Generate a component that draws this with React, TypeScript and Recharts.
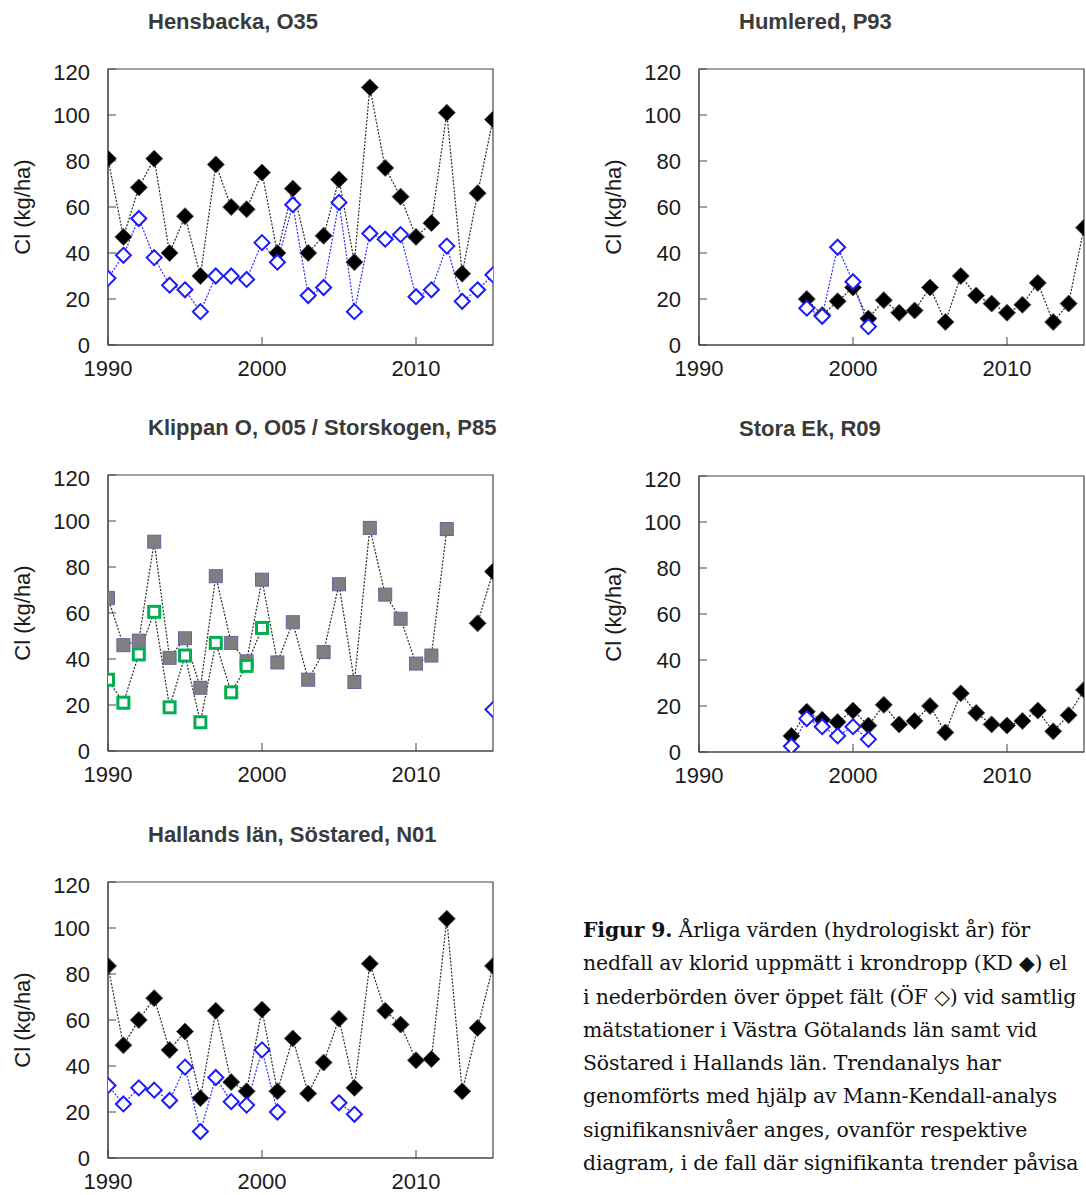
import { LineChart, Line, XAxis, YAxis, ReferenceArea } from "recharts";

// Hydrological years shown on every panel
const YEARS = [
  1990, 1991, 1992, 1993, 1994, 1995, 1996, 1997, 1998, 1999, 2000, 2001, 2002,
  2003, 2004, 2005, 2006, 2007, 2008, 2009, 2010, 2011, 2012, 2013, 2014, 2015,
];
const X_TICKS = [1990, 2000, 2010];
const Y_TICKS = [0, 20, 40, 60, 80, 100, 120];

// Hensbacka, O35
const hensbackaKD = [81, 47, 68.5, 81, 40, 56, 30, 78.5, 60, 59, 75, 40, 68, 40, 47.5, 72, 36, 112, 77, 64.5, 47, 53, 101, 31, 66, 98];
const hensbackaOF = [29, 39, 55, 38, 26, 24, 14.5, 30, 30, 28.5, 44.5, 36, 61, 21.5, 25, 62, 14.5, 48.5, 46, 48, 21, 24, 43, 19, 24, 30.5];

// Klippan O, O05 / Storskogen, P85
const klippanGray = [66.5, 46, 48, 91, 40.5, 49, 27.5, 76, 47, 39, 74.5, 38.5, 56, 31, 43, 72.5, 30, 97, 68, 57.5, 38, 41.5, 96.5, null, null, null];
const klippanGreen = [31, 21, 42, 60.5, 19, 41.5, 12.5, 47, 25.5, 37, 53.5, null, null, null, null, null, null, null, null, null, null, null, null, null, null, null];
const storskogenKD = [null, null, null, null, null, null, null, null, null, null, null, null, null, null, null, null, null, null, null, null, null, null, null, null, 55.5, 78];
const storskogenOF = [null, null, null, null, null, null, null, null, null, null, null, null, null, null, null, null, null, null, null, null, null, null, null, null, null, 18];

// Hallands län, Söstared, N01
const sostaredKD = [83.5, 49, 60, 69.5, 47, 55, 26, 64, 33, 29, 64.5, 29, 52, 28, 41.5, 60.5, 30.5, 84.5, 64, 58, 42.5, 43, 104, 29, 56.5, 83.5];
const sostaredOF = [31.5, 23.5, 30.5, 29.5, 25, 39.5, 11.5, 35, 24.5, 23, 47, 20, null, null, null, 24, 19, null, null, null, null, null, null, null, null, null];

// Humlered, P93
const humleredKD = [null, null, null, null, null, null, null, 20, 13, 19, 25, 11.5, 19.5, 14, 15, 25, 10, 30, 21.5, 18, 14, 17.5, 27, 10, 18, 51];
const humleredOF = [null, null, null, null, null, null, null, 16, 12.5, 42.5, 27.5, 8, null, null, null, null, null, null, null, null, null, null, null, null, null, null];

// Stora Ek, R09
const storaEkKD = [null, null, null, null, null, null, 7, 17.5, 14, 13, 18, 11.5, 20.5, 12, 13.5, 20, 8.5, 25.5, 17, 12, 11.5, 13.5, 18, 9, 16, 27];
const storaEkOF = [null, null, null, null, null, null, 2.5, 14.5, 11, 7, 11, 5.5, null, null, null, null, null, null, null, null, null, null, null, null, null, null];

type Shape = "kd" | "of" | "gray" | "green";
type Series = { key: string; values: (number | null)[]; shape: Shape };

const LINE_COLOR: Record<Shape, string> = {
  kd: "#2a2a2a",
  of: "#2b2bff",
  gray: "#2a2a2a",
  green: "#2a2a2a",
};

const FONT = '"Liberation Sans", Arial, sans-serif';

const makeDot = (shape: Shape) => (props: any) => {
  const { cx, cy, key, value } = props;
  if (cx == null || cy == null || value == null) return <g key={key} />;
  if (shape === "kd") {
    const r = 8.5;
    return (
      <polygon key={key} points={`${cx},${cy - r} ${cx + r},${cy} ${cx},${cy + r} ${cx - r},${cy}`} fill="#000" stroke="#555" strokeWidth={1} />
    );
  }
  if (shape === "of") {
    const r = 7.5;
    return (
      <polygon key={key} points={`${cx},${cy - r} ${cx + r},${cy} ${cx},${cy + r} ${cx - r},${cy}`} fill="#fff" stroke="#1a1aff" strokeWidth={2} />
    );
  }
  if (shape === "gray") {
    return <rect key={key} x={cx - 6.5} y={cy - 6.5} width={13} height={13} fill="#7f7f7f" stroke="#6f5f9f" strokeWidth={1} />;
  }
  return <rect key={key} x={cx - 5.5} y={cy - 5.5} width={11} height={11} fill="#fff" stroke="#00b050" strokeWidth={3} />;
};

const buildRows = (series: Series[]) =>
  YEARS.map((year, i) => {
    const row: Record<string, number | null> = { year };
    for (const s of series) row[s.key] = s.values[i];
    return row;
  });

const Panel = ({ title, left, top, series }: { title: string; left: number; top: number; series: Series[] }) => {
  const data = buildRows(series);
  return (
    <>
      <div
        style={{
          position: "absolute",
          left: left + 148,
          top: top - 60,
          fontFamily: FONT,
          fontWeight: "bold",
          fontSize: 22,
          lineHeight: "26px",
          color: "#3a3a3a",
          whiteSpace: "nowrap",
        }}
      >
        {title}
      </div>
      <div style={{ position: "absolute", left, top: top - 10 }}>
        <LineChart width={510} height={331} data={data} margin={{ top: 10, right: 17, bottom: 0, left: 8 }}>
          <XAxis
            dataKey="year"
            type="number"
            domain={[1990, 2015]}
            ticks={X_TICKS}
            allowDataOverflow
            height={45}
            tickSize={-8}
            tickMargin={23}
            stroke="#444"
            tick={{ fontSize: 22, fill: "#1a1a1a", fontFamily: FONT }}
          />
          <YAxis
            domain={[0, 120]}
            ticks={Y_TICKS}
            allowDataOverflow
            width={100}
            tickSize={-8}
            tickMargin={26}
            stroke="#444"
            tick={{ fontSize: 22, fill: "#1a1a1a", fontFamily: FONT }}
            label={{
              value: "Cl (kg/ha)",
              angle: -90,
              position: "insideLeft",
              offset: 14,
              style: { textAnchor: "middle", fontSize: 22, fill: "#1a1a1a", fontFamily: FONT },
            }}
          />
          <ReferenceArea x1={1990} x2={2015} y1={0} y2={120} fill="none" stroke="#444" strokeWidth={1.2} />
          {series.map((s) => (
            <Line
              key={s.key}
              dataKey={s.key}
              type="linear"
              stroke={LINE_COLOR[s.shape]}
              strokeWidth={1.2}
              strokeDasharray="2 1.5"
              dot={makeDot(s.shape)}
              activeDot={false}
              isAnimationActive={false}
            />
          ))}
        </LineChart>
      </div>
    </>
  );
};

// caption as it is visible in the figure (the page crops it at the right)
const captionLines = [
  "nedfall av klorid uppmätt i krondropp (KD \u25C6) el",
  "i nederbörden över öppet fält (ÖF \u25C7) vid samtlig",
  "mätstationer i Västra Götalands län samt vid",
  "Söstared i Hallands län. Trendanalys har",
  "genomförts med hjälp av Mann-Kendall-analys",
  "signifikansnivåer anges, ovanför respektive",
  "diagram, i de fall där signifikanta trender påvisa",
];

export default function App() {
  return (
    <div style={{ position: "absolute", left: 0, top: 0, width: 1086, height: 1195, overflow: "hidden", background: "#fff" }}>
      <Panel
        title="Hensbacka, O35"
        left={0}
        top={69}
        series={[
          { key: "kd", values: hensbackaKD, shape: "kd" },
          { key: "of", values: hensbackaOF, shape: "of" },
        ]}
      />
      <Panel
        title="Humlered, P93"
        left={591}
        top={69}
        series={[
          { key: "kd", values: humleredKD, shape: "kd" },
          { key: "of", values: humleredOF, shape: "of" },
        ]}
      />
      <Panel
        title="Klippan O, O05 / Storskogen, P85"
        left={0}
        top={475}
        series={[
          { key: "gray", values: klippanGray, shape: "gray" },
          { key: "green", values: klippanGreen, shape: "green" },
          { key: "kd", values: storskogenKD, shape: "kd" },
          { key: "of", values: storskogenOF, shape: "of" },
        ]}
      />
      <Panel
        title="Stora Ek, R09"
        left={591}
        top={476}
        series={[
          { key: "kd", values: storaEkKD, shape: "kd" },
          { key: "of", values: storaEkOF, shape: "of" },
        ]}
      />
      <Panel
        title="Hallands län, Söstared, N01"
        left={0}
        top={882}
        series={[
          { key: "kd", values: sostaredKD, shape: "kd" },
          { key: "of", values: sostaredOF, shape: "of" },
        ]}
      />
      <div
        style={{
          position: "absolute",
          left: 583,
          top: 914,
          fontFamily: '"DejaVu Serif", Georgia, serif',
          fontSize: 20.4,
          letterSpacing: "-0.15px",
          lineHeight: "33.3px",
          color: "#111",
          whiteSpace: "nowrap",
        }}
      >
        <div>
          <b>Figur 9.</b> Årliga värden (hydrologiskt år) för
        </div>
        {captionLines.map((l) => (
          <div key={l}>{l}</div>
        ))}
      </div>
    </div>
  );
}
